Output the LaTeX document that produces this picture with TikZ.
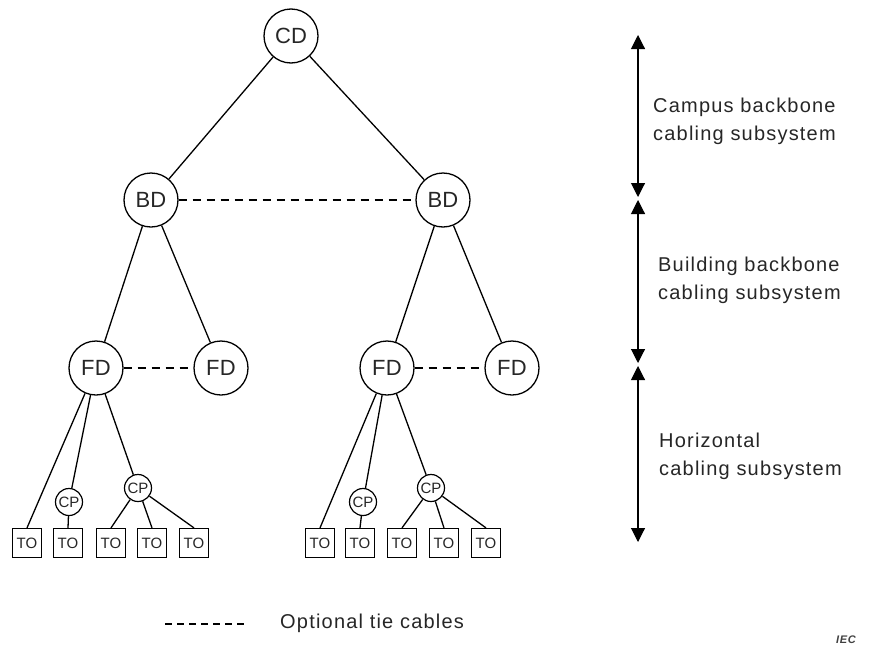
\documentclass[tikz,border=0pt]{standalone}
\usepackage{fontspec}
\setmainfont{Liberation Sans}[LetterSpace=6]
\newfontfamily\nodefont{Liberation Sans}[LetterSpace=1]
\usetikzlibrary{arrows.meta}
\begin{document}
\begin{tikzpicture}[x=1pt,y=-1pt,
  big/.style={draw, circle, line width=1.3pt, minimum size=54pt, inner sep=0pt, font=\nodefont\fontsize{22}{22}\selectfont, text=black!85},
  cp/.style={draw, circle, line width=1.2pt, minimum size=27pt, inner sep=0pt, font=\nodefont\fontsize{15}{15}\selectfont, text=black!85},
  to/.style={draw, rectangle, line width=1.2pt, minimum size=29pt, inner sep=0pt, font=\nodefont\fontsize{15}{15}\selectfont, text=black!85},
  link/.style={line width=1.3pt},
  tie/.style={line width=1.3pt, dash pattern=on 8pt off 6pt},
  span/.style={line width=1.1pt, {Triangle[width=14pt,length=14pt]}-{Triangle[width=14pt,length=14pt]}},
  lab/.style={anchor=north west, align=left, inner sep=0pt, font=\fontsize{20}{28}\selectfont, text=black!85}
]
\useasboundingbox (0,0) rectangle (877,648);

\node[big] (CD) at (291,36) {CD};
\node[big] (BD1) at (151,200) {BD};
\node[big] (BD2) at (443,200) {BD};
\node[big] (FD1) at (96,368) {FD};
\node[big] (FD2) at (221,368) {FD};
\node[big] (FD3) at (387,368) {FD};
\node[big] (FD4) at (512,368) {FD};

\node[cp] (CP1) at (69,502) {CP};
\node[cp] (CP2) at (138,488) {CP};
\node[cp] (CP3) at (363,502) {CP};
\node[cp] (CP4) at (431,488) {CP};

\node[to] (T1) at (27,543) {TO};
\node[to] (T2) at (68,543) {TO};
\node[to] (T3) at (111,543) {TO};
\node[to] (T4) at (152,543) {TO};
\node[to] (T5) at (194,543) {TO};
\node[to] (T6) at (320,543) {TO};
\node[to] (T7) at (360,543) {TO};
\node[to] (T8) at (402,543) {TO};
\node[to] (T9) at (444,543) {TO};
\node[to] (T10) at (486,543) {TO};

\draw[link] (CD) -- (BD1);
\draw[link] (CD) -- (BD2);
\draw[link] (BD1) -- (FD1);
\draw[link] (BD1) -- (FD2);
\draw[link] (BD2) -- (FD3);
\draw[link] (BD2) -- (FD4);
\draw[tie] (BD1) -- (BD2);
\draw[tie] (FD1) -- (FD2);
\draw[tie] (FD3) -- (FD4);

\draw[link] (FD1) -- (T1.north);
\draw[link] (FD1) -- (CP1);
\draw[link] (FD1) -- (CP2);
\draw[link] (CP1) -- (T2.north);
\draw[link] (CP2) -- (T3.north);
\draw[link] (CP2) -- (T4.north);
\draw[link] (CP2) -- (T5.north);

\draw[link] (FD3) -- (T6.north);
\draw[link] (FD3) -- (CP3);
\draw[link] (FD3) -- (CP4);
\draw[link] (CP3) -- (T7.north);
\draw[link] (CP4) -- (T8.north);
\draw[link] (CP4) -- (T9.north);
\draw[link] (CP4) -- (T10.north);

\coordinate (A1) at (638,35);
\coordinate (A2) at (638,197);
\coordinate (A3) at (638,200);
\coordinate (A4) at (638,363);
\coordinate (A5) at (638,366);
\coordinate (A6) at (638,542);
\draw[span] (A1) -- (A2);
\draw[span] (A3) -- (A4);
\draw[span] (A5) -- (A6);

\node[lab] (L1) at (653,98) {Campus backbone\\cabling subsystem};
\node[lab] (L2) at (658,257) {Building backbone\\cabling subsystem};
\node[lab] (L3) at (659,433) {Horizontal\\cabling subsystem};

\coordinate (D1) at (165,624);
\coordinate (D2) at (247,624);
\draw[line width=1.1pt, dash pattern=on 7pt off 5pt] (D1) -- (D2);
\node[anchor=west, inner sep=0pt, font=\fontsize{20}{20}\selectfont, text=black!85] (LG) at (280,623) {Optional tie cables};
\node[anchor=center, inner sep=0pt, font=\bfseries\itshape\fontsize{11}{11}\selectfont, text=black!75] (IEC) at (846,640) {IEC};
\end{tikzpicture}
\end{document}
